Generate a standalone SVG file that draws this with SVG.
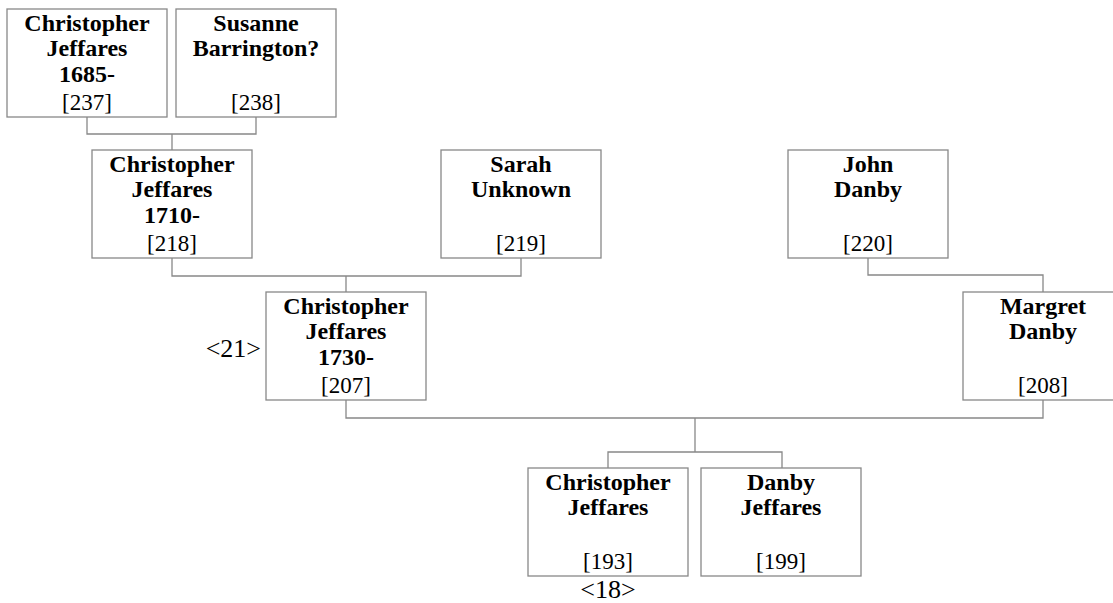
<svg xmlns="http://www.w3.org/2000/svg" width="1113" height="603" viewBox="0 0 1113 603">
<style>
  rect.box { fill: #ffffff; stroke: #888888; stroke-width: 1.3; }
  .conn path { fill: none; stroke: #888888; stroke-width: 1.3; }
  text { font-family: "Liberation Serif", "Times New Roman", serif; fill: #000000; text-anchor: middle; }
  .nm { font-weight: bold; font-size: 24px; }
  .id { font-size: 23px; }
  .lbl { font-size: 26px; }
</style>
<rect width="1113" height="603" fill="#ffffff"/>
<g class="conn" id="connectors">
  <path d="M87,117 V134 H256 V117"/>
  <path d="M172,134 V150"/>
  <path d="M172,258 V276 H521 V258"/>
  <path d="M346,276 V292"/>
  <path d="M868,258 V275 H1043 V292"/>
  <path d="M346,400 V418 H1043 V400"/>
  <path d="M695,418 V452"/>
  <path d="M608,468 V452 H782 V468"/>
</g>
<g id="n237">
  <rect class="box" x="7" y="9" width="160" height="108"/>
  <text class="nm" x="87" y="31">Christopher</text>
  <text class="nm" x="87" y="56">Jeffares</text>
  <text class="nm" x="87" y="82">1685-</text>
  <text class="id" x="87" y="110">[237]</text>
</g>
<g id="n238">
  <rect class="box" x="176" y="9" width="160" height="108"/>
  <text class="nm" x="256" y="31">Susanne</text>
  <text class="nm" x="256" y="56">Barrington?</text>
  <text class="id" x="256" y="110">[238]</text>
</g>
<g id="n218">
  <rect class="box" x="92" y="150" width="160" height="108"/>
  <text class="nm" x="172" y="172">Christopher</text>
  <text class="nm" x="172" y="197">Jeffares</text>
  <text class="nm" x="172" y="223">1710-</text>
  <text class="id" x="172" y="251">[218]</text>
</g>
<g id="n219">
  <rect class="box" x="441" y="150" width="160" height="108"/>
  <text class="nm" x="521" y="172">Sarah</text>
  <text class="nm" x="521" y="197">Unknown</text>
  <text class="id" x="521" y="251">[219]</text>
</g>
<g id="n220">
  <rect class="box" x="788" y="150" width="160" height="108"/>
  <text class="nm" x="868" y="172">John</text>
  <text class="nm" x="868" y="197">Danby</text>
  <text class="id" x="868" y="251">[220]</text>
</g>
<g id="n207">
  <rect class="box" x="266" y="292" width="160" height="108"/>
  <text class="nm" x="346" y="314">Christopher</text>
  <text class="nm" x="346" y="339">Jeffares</text>
  <text class="nm" x="346" y="365">1730-</text>
  <text class="id" x="346" y="393">[207]</text>
  <text class="lbl" x="261" y="357" style="text-anchor:end">&lt;21&gt;</text>
</g>
<g id="n208">
  <rect class="box" x="963" y="292" width="160" height="108"/>
  <text class="nm" x="1043" y="314">Margret</text>
  <text class="nm" x="1043" y="339">Danby</text>
  <text class="id" x="1043" y="393">[208]</text>
</g>
<g id="n193">
  <rect class="box" x="528" y="468" width="160" height="108"/>
  <text class="nm" x="608" y="490">Christopher</text>
  <text class="nm" x="608" y="515">Jeffares</text>
  <text class="id" x="608" y="569">[193]</text>
  <text class="lbl" x="608" y="598">&lt;18&gt;</text>
</g>
<g id="n199">
  <rect class="box" x="701" y="468" width="160" height="108"/>
  <text class="nm" x="781" y="490">Danby</text>
  <text class="nm" x="781" y="515">Jeffares</text>
  <text class="id" x="781" y="569">[199]</text>
</g>
</svg>
